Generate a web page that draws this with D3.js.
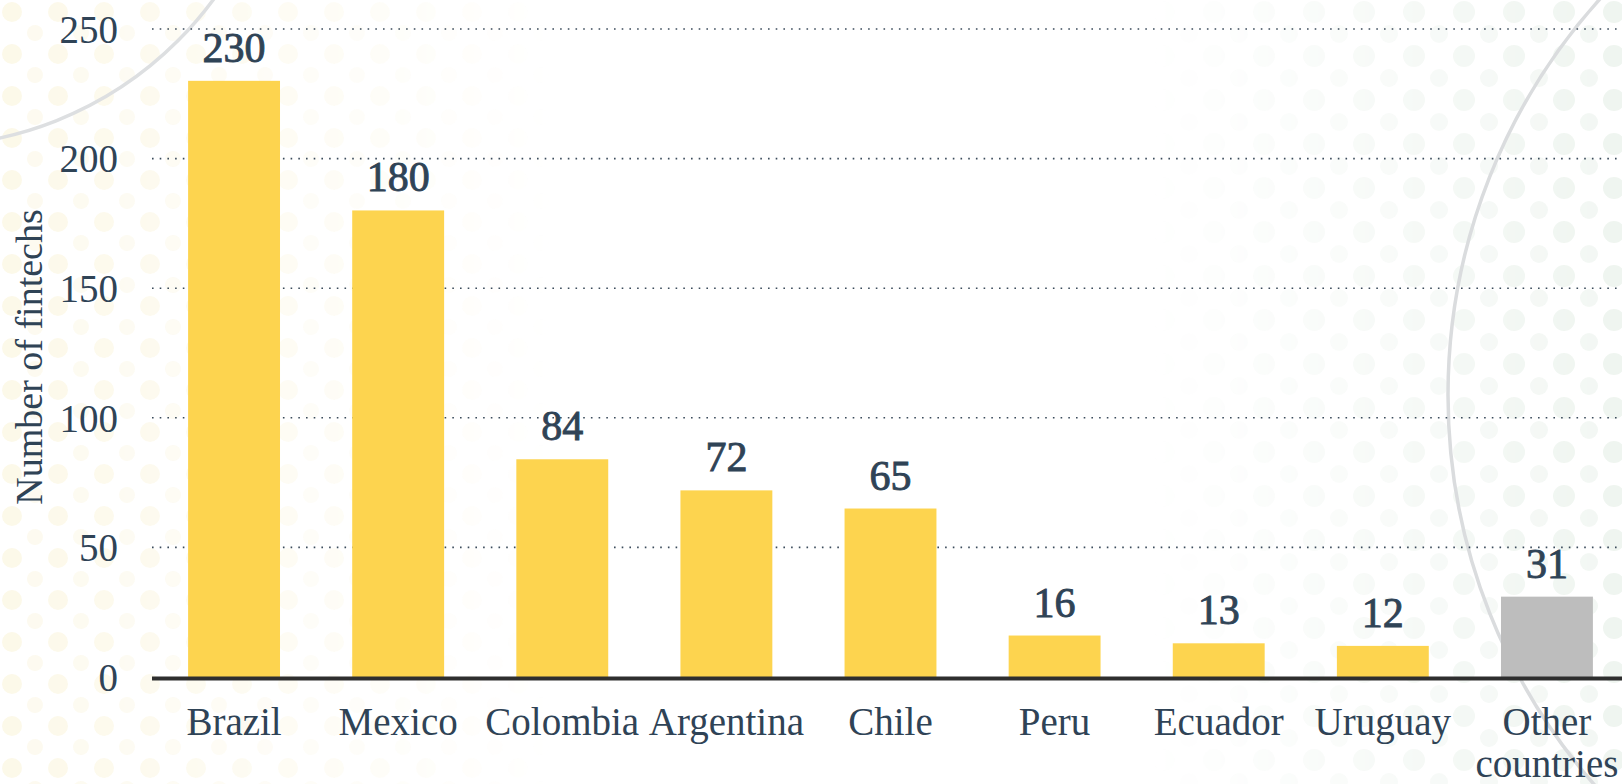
<!DOCTYPE html>
<html>
<head>
<meta charset="utf-8">
<script src="https://cdn.jsdelivr.net/npm/d3@7/dist/d3.min.js"></script>
<style>
  html, body { margin: 0; padding: 0; background: #ffffff; }
  svg { display: block; }
  text { font-family: "Liberation Serif", "Times New Roman", serif; }
</style>
</head>
<body>
<svg id="chart" width="1622" height="784"></svg>
<script>
const categories = ["Brazil", "Mexico", "Colombia", "Argentina", "Chile", "Peru", "Ecuador", "Uruguay", "Other countries"];
const values = [230, 180, 84, 72, 65, 16, 13, 12, 31];
const barColors = ["#FDD44F", "#FDD44F", "#FDD44F", "#FDD44F", "#FDD44F", "#FDD44F", "#FDD44F", "#FDD44F", "#BDBDBD"];
const yTicks = [0, 50, 100, 150, 200, 250];
const yTitle = "Number of fintechs";

const W = 1622, H = 784;
const svg = d3.select("#chart");
const textColor = "#2F4356";

// ---- decorative background ----
const defs = svg.append("defs");
const pY = defs.append("pattern").attr("id", "dotsY").attr("width", 46).attr("height", 42)
  .attr("patternUnits", "userSpaceOnUse");
pY.append("circle").attr("cx", 12).attr("cy", 12).attr("r", 10).attr("fill", "#FBF6DF");
pY.append("circle").attr("cx", 35).attr("cy", 33).attr("r", 8).attr("fill", "#FCF8E8");
const pG = defs.append("pattern").attr("id", "dotsG").attr("width", 50).attr("height", 44)
  .attr("patternUnits", "userSpaceOnUse");
pG.append("circle").attr("cx", 14).attr("cy", 12).attr("r", 11).attr("fill", "#EDF4EE");
pG.append("circle").attr("cx", 39).attr("cy", 34).attr("r", 9).attr("fill", "#F1F6F2");

const gL = defs.append("linearGradient").attr("id", "fadeL").attr("x1", 0).attr("x2", 1);
gL.append("stop").attr("offset", 0).attr("stop-color", "#fff").attr("stop-opacity", 0.7);
gL.append("stop").attr("offset", 1).attr("stop-color", "#fff").attr("stop-opacity", 0);
const mL = defs.append("mask").attr("id", "maskL");
mL.append("rect").attr("x", 0).attr("y", 0).attr("width", 560).attr("height", H).attr("fill", "url(#fadeL)");
const gR = defs.append("linearGradient").attr("id", "fadeR").attr("x1", 0).attr("x2", 1);
gR.append("stop").attr("offset", 0).attr("stop-color", "#fff").attr("stop-opacity", 0);
gR.append("stop").attr("offset", 1).attr("stop-color", "#fff").attr("stop-opacity", 0.9);
const mR = defs.append("mask").attr("id", "maskR");
mR.append("rect").attr("x", 1150).attr("y", 0).attr("width", W - 1150).attr("height", H).attr("fill", "url(#fadeR)");

const bg = svg.append("g").attr("class", "background");
bg.append("rect").attr("x", 0).attr("y", 0).attr("width", 560).attr("height", H)
  .attr("fill", "url(#dotsY)").attr("mask", "url(#maskL)");
bg.append("rect").attr("x", 1150).attr("y", 0).attr("width", W - 1150).attr("height", H)
  .attr("fill", "url(#dotsG)").attr("mask", "url(#maskR)");
bg.append("circle").attr("cx", -76).attr("cy", -213).attr("r", 359)
  .attr("fill", "none").attr("stroke", "#DDDFE1").attr("stroke-width", 3.5);
bg.append("circle").attr("cx", 2040).attr("cy", 395).attr("r", 592)
  .attr("fill", "none").attr("stroke", "#DADCDE").attr("stroke-width", 3.5);

// ---- scales ----
const x = d3.scaleBand().domain(categories).range([152, 1629]).paddingInner(0.44).paddingOuter(0.22);
const y = d3.scaleLinear().domain([0, 250]).range([677, 29]);

// gridlines
svg.append("g").selectAll("line").data(yTicks.filter(t => t > 0)).join("line")
  .attr("x1", 152).attr("x2", W)
  .attr("y1", d => y(d)).attr("y2", d => y(d))
  .attr("stroke", "#3B4B5B").attr("stroke-width", 1.6)
  .attr("stroke-dasharray", "1.6 6.1");

// y axis labels
const yAxis = d3.axisLeft(y).tickValues(yTicks).tickSize(0).tickPadding(0);
const yg = svg.append("g").attr("transform", "translate(118,0)").call(yAxis);
yg.select(".domain").remove();
yg.selectAll("text").attr("font-family", "Liberation Serif, serif").attr("font-size", 39)
  .attr("fill", textColor).attr("dy", "0.34em");

// y title
svg.append("text").attr("transform", "translate(42,357) rotate(-90)")
  .attr("text-anchor", "middle").attr("font-size", 38).attr("fill", textColor).text(yTitle);

const data = categories.map((c, i) => ({ c, v: values[i], color: barColors[i] }));

// bars
svg.append("g").selectAll("rect").data(data).join("rect")
  .attr("x", d => x(d.c)).attr("width", x.bandwidth())
  .attr("y", d => y(d.v)).attr("height", d => y(0) - y(d.v))
  .attr("fill", d => d.color);

// value labels
svg.append("g").selectAll("text").data(data).join("text")
  .attr("x", d => x(d.c) + x.bandwidth() / 2).attr("y", d => y(d.v) - 19)
  .attr("text-anchor", "middle").attr("font-size", 42).attr("fill", textColor)
  .attr("stroke", textColor).attr("stroke-width", 0.9)
  .text(d => d.v);

// baseline
svg.append("line").attr("x1", 152).attr("x2", W).attr("y1", y(0) + 1.5).attr("y2", y(0) + 1.5)
  .attr("stroke", "#2E2E2E").attr("stroke-width", 4);

// x labels
const xg = svg.append("g");
xg.selectAll("text").data(data).join("text")
  .attr("x", d => x(d.c) + x.bandwidth() / 2).attr("y", 735)
  .attr("text-anchor", "middle").attr("font-size", 39).attr("fill", textColor)
  .each(function(d) {
    const words = d.c === "Other countries" ? ["Other", "countries"] : [d.c];
    const t = d3.select(this);
    words.forEach((w, i) => {
      t.append("tspan").attr("x", x(d.c) + x.bandwidth() / 2).attr("dy", i === 0 ? 0 : 42).text(w);
    });
  });
</script>
</body>
</html>
